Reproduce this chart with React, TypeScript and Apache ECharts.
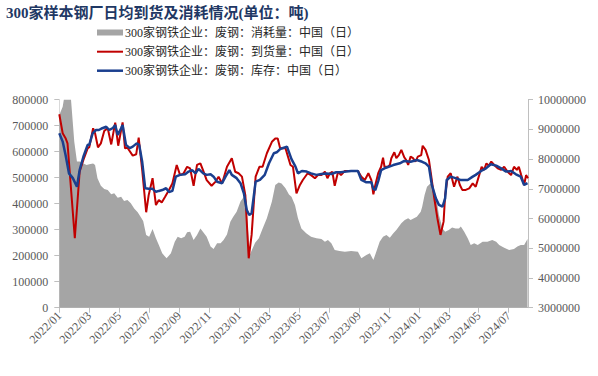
import { useEffect, useRef } from 'react';
import * as echarts from 'echarts';

const titleText = '300家样本钢厂日均到货及消耗情况(单位：吨)';
const seriesNames = [
  '300家钢铁企业：废钢：消耗量：中国（日）',
  '300家钢铁企业：废钢：到货量：中国（日）',
  '300家钢铁企业：废钢：库存：中国（日）',
];

// 消耗量 (left axis, tonnes)
const grayDates = [
  '2022-01-01','2022-01-08','2022-01-13','2022-01-24','2022-02-01','2022-02-06','2022-02-11','2022-02-18','2022-02-24','2022-03-01',
  '2022-03-09','2022-03-13','2022-03-18','2022-03-25','2022-04-01','2022-04-08','2022-04-15','2022-04-21','2022-04-28','2022-05-05',
  '2022-05-11','2022-05-18','2022-05-25','2022-06-01','2022-06-08','2022-06-15','2022-06-19','2022-06-25','2022-07-01','2022-07-08',
  '2022-07-15','2022-07-21','2022-07-28','2022-08-06','2022-08-15','2022-08-23','2022-08-29','2022-09-05','2022-09-12','2022-09-17',
  '2022-09-23','2022-09-30','2022-10-07','2022-10-14','2022-10-20','2022-10-27','2022-11-04','2022-11-10','2022-11-17','2022-11-24',
  '2022-11-30','2022-12-07','2022-12-14','2022-12-20','2022-12-27','2023-01-04','2023-01-11','2023-01-15','2023-01-23','2023-02-03',
  '2023-02-10','2023-02-16','2023-02-25','2023-03-07','2023-03-14','2023-03-21','2023-03-27','2023-04-04','2023-04-11','2023-04-16',
  '2023-04-23','2023-04-29','2023-05-06','2023-05-16','2023-05-26','2023-06-06','2023-06-16','2023-06-23','2023-06-29','2023-07-06',
  '2023-07-13','2023-07-23','2023-08-03','2023-08-16','2023-08-30','2023-09-06','2023-09-16','2023-09-23','2023-09-30','2023-10-06',
  '2023-10-13','2023-10-20','2023-10-27','2023-11-03','2023-11-10','2023-11-16','2023-11-26','2023-12-03','2023-12-10','2023-12-15',
  '2023-12-22','2023-12-28','2024-01-05','2024-01-08','2024-01-13','2024-01-18','2024-01-25','2024-01-30','2024-02-05','2024-02-11',
  '2024-02-18','2024-02-23','2024-03-01','2024-03-08','2024-03-15','2024-03-22','2024-03-26','2024-04-02','2024-04-09','2024-04-15',
  '2024-04-22','2024-04-29','2024-05-09','2024-05-19','2024-05-29','2024-06-06','2024-06-12','2024-06-22','2024-07-02','2024-07-12',
  '2024-07-19','2024-07-26','2024-08-02','2024-08-09',
];
const grayValues = [
  741000,773000,830000,830000,638000,562000,562000,555000,549000,552000,
  555000,549000,498000,469000,457000,453000,436000,440000,423000,427000,
  410000,414000,402000,382000,367000,346000,333000,280000,273000,303000,
  267000,241000,209000,190000,209000,254000,273000,267000,273000,290000,
  292000,260000,280000,305000,290000,273000,235000,226000,248000,248000,
  260000,282000,331000,350000,369000,408000,427000,427000,203000,250000,
  267000,299000,344000,408000,472000,482000,478000,459000,435000,427000,
  395000,344000,305000,286000,273000,267000,264000,254000,260000,248000,
  222000,218000,215000,218000,215000,190000,203000,209000,183000,215000,
  254000,273000,280000,269000,286000,299000,325000,337000,344000,337000,
  344000,350000,369000,388000,433000,465000,478000,465000,433000,357000,
  305000,292000,299000,308000,305000,305000,312000,292000,267000,241000,
  248000,241000,254000,254000,260000,254000,241000,231000,222000,226000,
  235000,241000,241000,264000,
];

// 到货量 (left axis, tonnes)
const redDates = [
  '2022-01-01','2022-01-08','2022-01-14','2022-01-18','2022-02-02','2022-02-11','2022-02-18','2022-02-26','2022-03-01','2022-03-09',
  '2022-03-13','2022-03-19','2022-03-25','2022-04-01','2022-04-08','2022-04-15','2022-04-23','2022-04-29','2022-05-08','2022-05-13',
  '2022-05-18','2022-05-29','2022-06-05','2022-06-10','2022-06-17','2022-06-25','2022-06-30','2022-07-08','2022-07-15','2022-07-21',
  '2022-07-27','2022-08-03','2022-08-11','2022-08-18','2022-08-27','2022-09-03','2022-09-10','2022-09-17','2022-09-23','2022-09-30',
  '2022-10-07','2022-10-14','2022-10-20','2022-10-27','2022-11-06','2022-11-14','2022-11-20','2022-11-27','2022-12-07','2022-12-17',
  '2022-12-24','2022-12-31','2023-01-07','2023-01-14','2023-01-21','2023-01-27','2023-02-04','2023-02-11','2023-02-17','2023-02-25',
  '2023-03-07','2023-03-14','2023-03-19','2023-03-24','2023-04-04','2023-04-09','2023-04-14','2023-04-19','2023-04-26','2023-05-03',
  '2023-05-09','2023-05-19','2023-05-26','2023-06-03','2023-06-09','2023-06-16','2023-06-23','2023-06-28','2023-07-03','2023-07-08',
  '2023-07-13','2023-07-20','2023-07-26','2023-08-03','2023-08-10','2023-08-30','2023-09-06','2023-09-13','2023-09-20','2023-09-26',
  '2023-09-30','2023-10-04','2023-10-10','2023-10-16','2023-10-20','2023-10-23','2023-10-30','2023-11-03','2023-11-06','2023-11-12',
  '2023-11-16','2023-11-21','2023-11-26','2023-12-02','2023-12-06','2023-12-10','2023-12-15','2023-12-20','2023-12-25','2023-12-30',
  '2024-01-06','2024-01-09','2024-01-15','2024-01-22','2024-01-26','2024-02-02','2024-02-08','2024-02-14','2024-02-20','2024-02-23',
  '2024-02-28','2024-03-05','2024-03-12','2024-03-19','2024-03-24','2024-03-29','2024-04-05','2024-04-12','2024-04-19','2024-04-25',
  '2024-05-02','2024-05-07','2024-05-12','2024-05-17','2024-05-22','2024-05-27','2024-06-02','2024-06-09','2024-06-16','2024-06-22',
  '2024-06-29','2024-07-06','2024-07-12','2024-07-18','2024-07-22','2024-07-27','2024-08-02','2024-08-06','2024-08-10',
];
const redValues = [
  744000,671000,652000,632000,267000,523000,568000,613000,617000,690000,
  671000,617000,632000,680000,690000,628000,712000,623000,713000,613000,
  615000,585000,590000,654000,530000,367000,433000,498000,395000,414000,
  405000,427000,453000,478000,549000,510000,517000,542000,536000,469000,
  549000,555000,526000,491000,469000,485000,504000,478000,542000,575000,
  523000,517000,504000,433000,190000,280000,504000,542000,542000,594000,
  638000,651000,651000,613000,613000,581000,549000,542000,440000,472000,
  491000,517000,510000,498000,510000,510000,523000,498000,517000,523000,
  469000,523000,510000,526000,526000,526000,504000,491000,517000,491000,
  436000,472000,517000,542000,577000,542000,542000,549000,575000,598000,
  575000,587000,607000,578000,568000,549000,581000,575000,562000,581000,
  587000,623000,607000,568000,517000,421000,344000,280000,331000,433000,
  504000,517000,465000,504000,472000,453000,453000,459000,478000,465000,
  510000,542000,530000,555000,546000,562000,549000,536000,530000,542000,
  523000,510000,542000,530000,542000,510000,472000,510000,498000,
];

// 库存 (right axis, tonnes)
const blueDates = [
  '2022-01-01','2022-01-08','2022-01-14','2022-01-21','2022-01-29','2022-02-06','2022-02-11','2022-02-18','2022-02-26','2022-03-01',
  '2022-03-08','2022-03-15','2022-03-21','2022-03-28','2022-04-05','2022-04-11','2022-04-18','2022-04-23','2022-04-28','2022-05-05',
  '2022-05-08','2022-05-15','2022-05-23','2022-05-29','2022-06-06','2022-06-11','2022-06-17','2022-06-23','2022-06-30','2022-07-08',
  '2022-07-15','2022-07-21','2022-07-28','2022-08-05','2022-08-11','2022-08-18','2022-08-25','2022-09-03','2022-09-13','2022-09-20',
  '2022-09-27','2022-10-04','2022-10-10','2022-10-20','2022-10-27','2022-11-04','2022-11-10','2022-11-17','2022-11-27','2022-12-04',
  '2022-12-12','2022-12-17','2022-12-27','2023-01-04','2023-01-11','2023-01-17','2023-01-22','2023-01-27','2023-02-04','2023-02-12',
  '2023-02-21','2023-03-01','2023-03-11','2023-03-17','2023-03-24','2023-04-07','2023-04-16','2023-04-24','2023-04-29','2023-05-07',
  '2023-05-17','2023-05-26','2023-06-06','2023-06-16','2023-06-26','2023-07-06','2023-07-16','2023-07-26','2023-08-06','2023-08-16',
  '2023-08-30','2023-09-06','2023-09-16','2023-09-26','2023-09-30','2023-10-04','2023-10-10','2023-10-16','2023-10-26','2023-11-10',
  '2023-11-23','2023-12-02','2023-12-15','2023-12-28','2024-01-08','2024-01-15','2024-01-22','2024-01-28','2024-02-05','2024-02-11',
  '2024-02-18','2024-02-23','2024-02-26','2024-03-05','2024-03-15','2024-03-25','2024-04-09','2024-04-19','2024-04-25','2024-05-06',
  '2024-05-16','2024-05-26','2024-06-06','2024-06-16','2024-06-26','2024-07-06','2024-07-16','2024-07-26','2024-08-02','2024-08-09',
];
const blueValues = [
  8870000,8590000,8140000,7520000,7360000,7070000,7630000,8080000,8480000,8480000,
  8870000,8980000,8980000,9040000,9090000,8980000,9040000,9150000,8810000,9040000,
  9150000,8480000,8370000,8420000,8530000,8480000,7910000,7020000,7000000,7000000,
  6900000,6930000,6960000,7020000,6890000,6930000,7410000,7470000,7490000,7580000,
  7630000,7520000,7670000,7520000,7470000,7490000,7410000,7240000,7190000,7410000,
  7630000,7470000,7360000,7190000,6850000,6290000,6120000,6180000,7240000,7300000,
  7470000,7860000,8200000,8230000,8340000,8420000,8000000,7750000,7520000,7600000,
  7580000,7520000,7470000,7500000,7520000,7500000,7560000,7560000,7580000,7600000,
  7600000,7300000,7220000,7220000,7000000,6960000,7260000,7630000,7710000,7800000,
  7860000,7940000,7910000,7970000,7910000,7860000,7750000,7130000,6680000,6460000,
  6400000,6680000,7300000,7410000,7360000,7300000,7300000,7410000,7470000,7600000,
  7690000,7830000,7780000,7690000,7580000,7600000,7490000,7410000,7130000,7190000,
];

const axisEndDate = '2024-08-10';

function toMonthIndex(s: string): number {
  const [y, mo, d] = s.split('-').map(Number);
  const dim = new Date(y, mo, 0).getDate();
  return (y - 2022) * 12 + (mo - 1) + (d - 1) / dim;
}

const serifFont = "'Liberation Serif', 'Noto Sans CJK SC', serif";
const cjkFont = "'Liberation Serif', 'Noto Sans CJK SC', sans-serif";

export default function App() {
  const ref = useRef<HTMLDivElement | null>(null);
  useEffect(() => {
    if (!ref.current) return;
    const chart = echarts.init(ref.current, null, { renderer: 'svg' });
    const labelColor = '#595959';
    chart.setOption({
      animation: false,
      backgroundColor: '#ffffff',
      title: {
        text: titleText,
        left: 6,
        top: 5,
        padding: 0,
        textStyle: { fontSize: 15, fontWeight: 'bold', color: '#1f3864', fontFamily: serifFont },
      },
      grid: { left: 59.3, right: 70, top: 99.7, bottom: 68.3, containLabel: false },
      xAxis: {
        type: 'value',
        min: 0,
        max: toMonthIndex(axisEndDate),
        interval: 2,
        splitLine: { show: false },
        axisLine: { show: true, lineStyle: { color: '#bfbfbf', width: 1 } },
        axisTick: { show: true, length: 5, lineStyle: { color: '#bfbfbf' } },
        axisLabel: {
          rotate: 45,
          margin: 6,
          fontSize: 12,
          color: labelColor,
          fontFamily: serifFont,
          showMaxLabel: false,
          formatter: (v: number) => {
            if (Math.abs(v - Math.round(v)) > 1e-6 || v > 30.5) return '';
            const r = Math.round(v);
            const y = 2022 + Math.floor(r / 12);
            const m = (r % 12) + 1;
            return `${y}/${m < 10 ? '0' + m : m}`;
          },
        },
      },
      yAxis: [
        {
          type: 'value',
          position: 'left',
          min: 0,
          max: 800000,
          interval: 100000,
          splitLine: { show: false },
          axisLine: { show: true, lineStyle: { color: '#d9d9d9' } },
          axisTick: { show: true, length: 5, lineStyle: { color: '#bfbfbf' } },
          axisLabel: { margin: 11, fontSize: 12, color: labelColor, fontFamily: serifFont, formatter: (v: number) => String(v) },
        },
        {
          type: 'value',
          position: 'right',
          min: 3000000,
          max: 10000000,
          interval: 1000000,
          splitLine: { show: false },
          axisLine: { show: true, lineStyle: { color: '#bfbfbf' } },
          axisTick: { show: true, length: 5, lineStyle: { color: '#bfbfbf' } },
          axisLabel: { margin: 10, fontSize: 12, color: labelColor, fontFamily: serifFont, formatter: (v: number) => String(v) },
        },
      ],
      series: [
        {
          name: seriesNames[0],
          type: 'line',
          yAxisIndex: 0,
          symbol: 'none',
          clip: true,
          z: 1,
          lineStyle: { width: 0, color: '#a5a5a5' },
          itemStyle: { color: '#a5a5a5' },
          areaStyle: { color: '#a5a5a5', opacity: 1 },
          data: grayDates.map((d, i) => [toMonthIndex(d), grayValues[i]]),
        },
        {
          name: seriesNames[1],
          type: 'line',
          yAxisIndex: 0,
          symbol: 'none',
          z: 2,
          lineStyle: { width: 2, color: '#c00000' },
          itemStyle: { color: '#c00000' },
          data: redDates.map((d, i) => [toMonthIndex(d), redValues[i]]),
        },
        {
          name: seriesNames[2],
          type: 'line',
          yAxisIndex: 1,
          symbol: 'none',
          z: 3,
          lineStyle: { width: 2.5, color: '#1a3f8f' },
          itemStyle: { color: '#1a3f8f' },
          data: blueDates.map((d, i) => [toMonthIndex(d), blueValues[i]]),
        },
      ],
      graphic: [
        { type: 'rect', left: 97, top: 29.5, shape: { width: 26, height: 6 }, style: { fill: '#a5a5a5' } },
        { type: 'text', x: 125, y: 32.5, style: { text: seriesNames[0], fontSize: 12, fontFamily: cjkFont, fill: '#262626', verticalAlign: 'middle' } },
        { type: 'line', shape: { x1: 97, y1: 51.7, x2: 123, y2: 51.7 }, style: { stroke: '#c00000', lineWidth: 2 } },
        { type: 'text', x: 125, y: 51.7, style: { text: seriesNames[1], fontSize: 12, fontFamily: cjkFont, fill: '#262626', verticalAlign: 'middle' } },
        { type: 'line', shape: { x1: 97, y1: 70.7, x2: 123, y2: 70.7 }, style: { stroke: '#1a3f8f', lineWidth: 2.5 } },
        { type: 'text', x: 125, y: 70.7, style: { text: seriesNames[2], fontSize: 12, fontFamily: cjkFont, fill: '#262626', verticalAlign: 'middle' } },
      ],
    });
    return () => chart.dispose();
  }, []);
  return <div ref={ref} style={{ position: 'fixed', left: 0, top: 0, width: 598, height: 376 }} />;
}
